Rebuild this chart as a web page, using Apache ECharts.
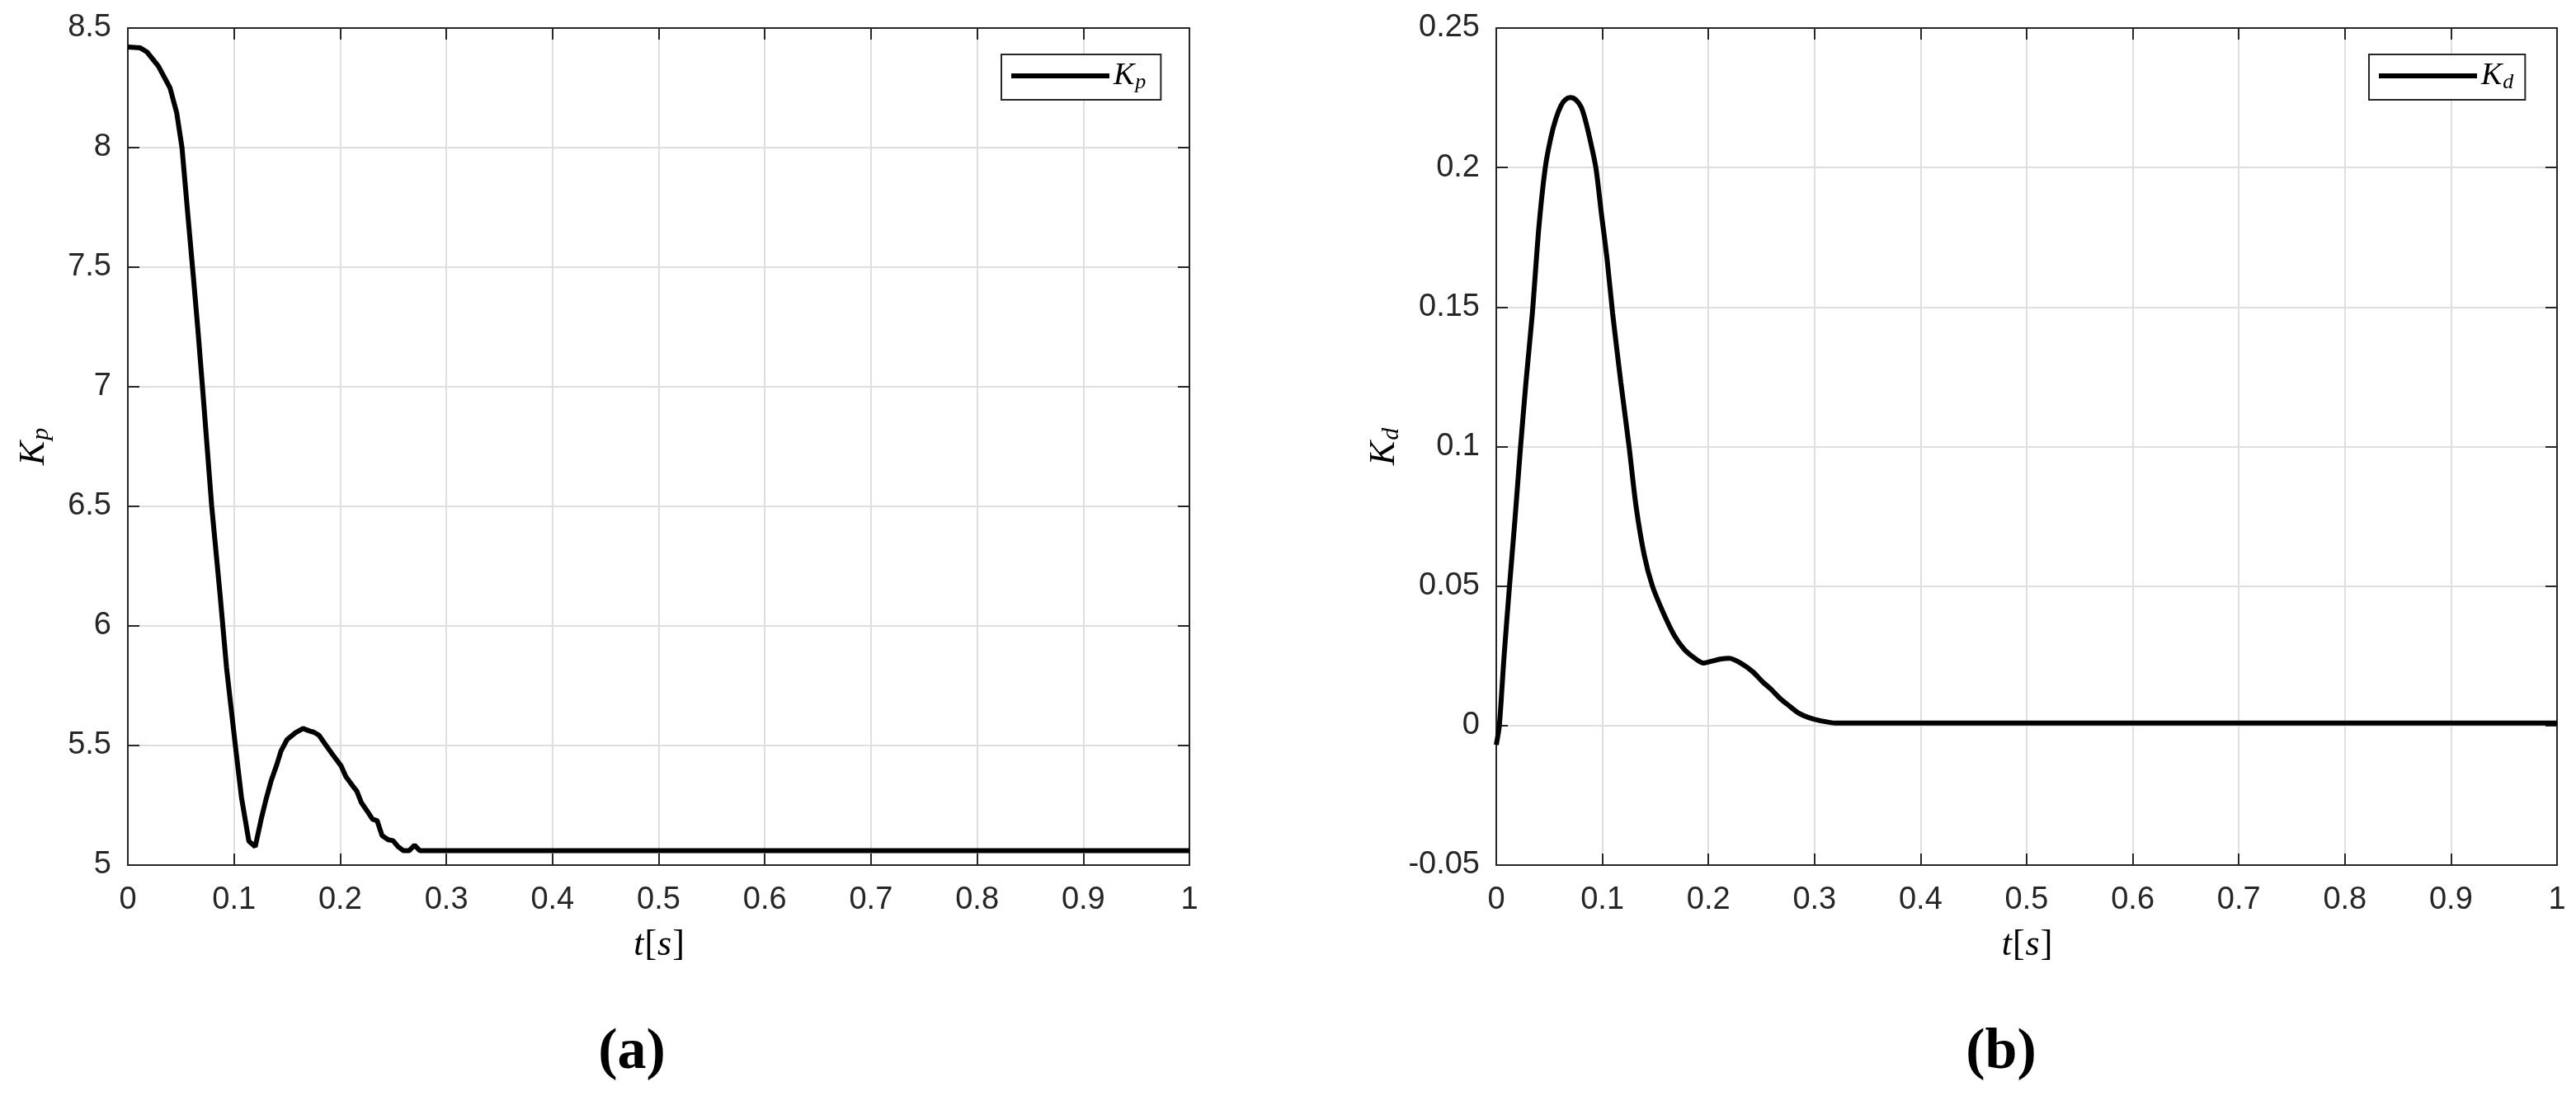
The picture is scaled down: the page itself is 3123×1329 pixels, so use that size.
<!DOCTYPE html>
<html><head><meta charset="utf-8">
<script src="https://cdn.jsdelivr.net/npm/echarts@6/dist/echarts.min.js"></script>
<style>html,body{margin:0;padding:0;background:#fff}#c{width:3123px;height:1329px}</style>
</head><body><div id="c"></div>
<script>
// ---- data ----
const tKp = [0, 0.0117, 0.018, 0.0287, 0.0397, 0.046, 0.051, 0.0565, 0.0617, 0.066, 0.0703, 0.079, 0.0868, 0.093, 0.1009, 0.107, 0.114, 0.12, 0.1256, 0.13, 0.135, 0.14, 0.1443, 0.15, 0.158, 0.165, 0.1717, 0.175, 0.18, 0.1865, 0.1929, 0.2007, 0.2054, 0.211, 0.2157, 0.22, 0.2253, 0.2305, 0.2348, 0.2395, 0.2452, 0.2498, 0.2545, 0.2597, 0.2649, 0.27, 0.2752, 1.0];
const kp = [8.421, 8.417, 8.40, 8.341, 8.25, 8.146, 8.0, 7.72, 7.46, 7.238, 7.0, 6.5, 6.134, 5.824, 5.514, 5.284, 5.10, 5.077, 5.192, 5.272, 5.353, 5.416, 5.477, 5.525, 5.554, 5.571, 5.56, 5.556, 5.543, 5.502, 5.462, 5.416, 5.37, 5.336, 5.309, 5.261, 5.227, 5.192, 5.186, 5.123, 5.106, 5.102, 5.077, 5.06, 5.06, 5.083, 5.06, 5.06];
const tKd = [0, 0.0029, 0.0073, 0.0124, 0.0176, 0.0228, 0.028, 0.034, 0.0401, 0.0462, 0.0515, 0.0562, 0.061, 0.065, 0.0698, 0.075, 0.0801, 0.0842, 0.0893, 0.094, 0.0992, 0.1044, 0.1097, 0.1174, 0.1252, 0.1317, 0.1395, 0.1472, 0.1576, 0.1677, 0.1766, 0.1855, 0.195, 0.2034, 0.2109, 0.2198, 0.2317, 0.2421, 0.251, 0.2585, 0.2674, 0.2764, 0.2853, 0.2957, 0.3061, 0.3195, 1.0];
const kd = [-0.0069, 0.0, 0.0246, 0.0497, 0.0738, 0.0995, 0.1231, 0.1477, 0.1783, 0.2, 0.2108, 0.2175, 0.2222, 0.2243, 0.2251, 0.2243, 0.2216, 0.2167, 0.2085, 0.1997, 0.1832, 0.1674, 0.1477, 0.1231, 0.1, 0.0788, 0.0611, 0.05, 0.0403, 0.0324, 0.0276, 0.0246, 0.0224, 0.0231, 0.0238, 0.0241, 0.0221, 0.0192, 0.0157, 0.0132, 0.0098, 0.007, 0.0044, 0.0027, 0.0017, 0.0009, 0.0009];
const xRange = [0, 1, 0.1];          // min, max, step
const yRangeKp = [5, 8.5, 0.5];
const yRangeKd = [-0.05, 0.25, 0.05];
const panelTags = ['(a)', '(b)'];

// ---- styling ----
const ink = '#262626';
const sans = 'Liberation Sans';
const serif = 'Liberation Serif';
const legendRich = {
  k: { fontFamily: serif, fontStyle: 'italic', fontSize: 38, color: '#000', lineHeight: 40 },
  s: { fontFamily: serif, fontStyle: 'italic', fontSize: 26, color: '#000', padding: [16, 0, 0, 1] }
};
const nameRich = {
  k: { fontFamily: serif, fontStyle: 'italic', fontSize: 44, color: '#000', lineHeight: 46 },
  s: { fontFamily: serif, fontStyle: 'italic', fontSize: 30, color: '#000', padding: [18, 0, 0, 1] },
  i: { fontFamily: serif, fontStyle: 'italic', fontSize: 44, color: '#000', padding: [0, 1, 0, 1] },
  r: { fontFamily: serif, fontSize: 44, color: '#000' }
};
const lineStyleAxis = { color: ink, width: 2 };

function xAxesFor(g) {
  return [
    { type: 'value', gridIndex: g, min: xRange[0], max: xRange[1], interval: xRange[2], position: 'bottom',
      axisLine: { onZero: false, lineStyle: lineStyleAxis },
      axisTick: { inside: true, length: 14, lineStyle: lineStyleAxis },
      axisLabel: { color: ink, fontSize: 38, fontFamily: sans, margin: 24 },
      splitLine: { show: true, lineStyle: { color: '#dfdfdf', width: 2 } },
      name: '{i|t}{r|[}{i|s}{r|]}', nameLocation: 'middle', nameGap: 75,
      nameTextStyle: { rich: nameRich } },
    { type: 'value', gridIndex: g, min: xRange[0], max: xRange[1], interval: xRange[2], position: 'top',
      axisLine: { onZero: false, lineStyle: lineStyleAxis },
      axisTick: { inside: true, length: 14, lineStyle: lineStyleAxis },
      axisLabel: { show: false }, splitLine: { show: false } }
  ];
}
function yAxesFor(g, r, nm, gap) {
  return [
    { type: 'value', gridIndex: g, min: r[0], max: r[1], interval: r[2], position: 'left',
      axisLine: { show: true, onZero: false, lineStyle: lineStyleAxis },
      axisTick: { show: true, inside: true, length: 14, lineStyle: lineStyleAxis },
      axisLabel: { color: ink, fontSize: 38, fontFamily: sans, margin: 20 },
      splitLine: { show: true, lineStyle: { color: '#dfdfdf', width: 2 } },
      name: nm, nameLocation: 'middle', nameGap: gap, nameRotate: 90,
      nameTextStyle: { rich: nameRich } },
    { type: 'value', gridIndex: g, min: r[0], max: r[1], interval: r[2], position: 'right',
      axisLine: { show: true, onZero: false, lineStyle: lineStyleAxis },
      axisTick: { show: true, inside: true, length: 14, lineStyle: lineStyleAxis },
      axisLabel: { show: false }, splitLine: { show: false } }
  ];
}
function legendFor(name, left, padR) {
  return {
    data: [name], left: left, top: 66, orient: 'horizontal', selectedMode: false,
    icon: 'rect', itemWidth: 119, itemHeight: 6, itemGap: 0,
    padding: [7, padR, 8, 12], backgroundColor: '#fff', borderColor: ink, borderWidth: 2, borderRadius: 0,
    formatter: n => n === 'Kp' ? '{k|K}{s|p}' : '{k|K}{s|d}',
    textStyle: { rich: legendRich }
  };
}

const chart = echarts.init(document.getElementById('c'), null, { renderer: 'canvas' });
chart.setOption({
  animation: false,
  backgroundColor: '#fff',
  grid: [
    { left: 155, top: 34, width: 1287, height: 1015 },
    { left: 1814, top: 34, width: 1286, height: 1015 }
  ],
  xAxis: [...xAxesFor(0), ...xAxesFor(1)],
  yAxis: [...yAxesFor(0, yRangeKp, '{k|K}{s|p}', 90), ...yAxesFor(1, yRangeKd, '{k|K}{s|d}', 112)],
  legend: [legendFor('Kp', 1214, 18), legendFor('Kd', 2872, 14)],
  series: [
    { type: 'line', name: 'Kp', xAxisIndex: 0, yAxisIndex: 0, data: tKp.map((t, i) => [t, kp[i]]),
      showSymbol: false, symbol: 'none', lineStyle: { color: '#000', width: 6 }, itemStyle: { color: '#000' }, z: 5 },
    { type: 'line', name: 'Kd', xAxisIndex: 2, yAxisIndex: 2, data: tKd.map((t, i) => [t, kd[i]]),
      smooth: 0.25, showSymbol: false, symbol: 'none', lineStyle: { color: '#000', width: 6 }, itemStyle: { color: '#000' }, z: 5 }
  ],
  graphic: [
    { type: 'text', x: 766, y: 1277, style: { text: panelTags[0], fontSize: 70, fontWeight: 'bold', fontFamily: serif, fill: '#000', align: 'center', verticalAlign: 'middle' } },
    { type: 'text', x: 2426, y: 1277, style: { text: panelTags[1], fontSize: 70, fontWeight: 'bold', fontFamily: serif, fill: '#000', align: 'center', verticalAlign: 'middle' } }
  ]
});
</script></body></html>
